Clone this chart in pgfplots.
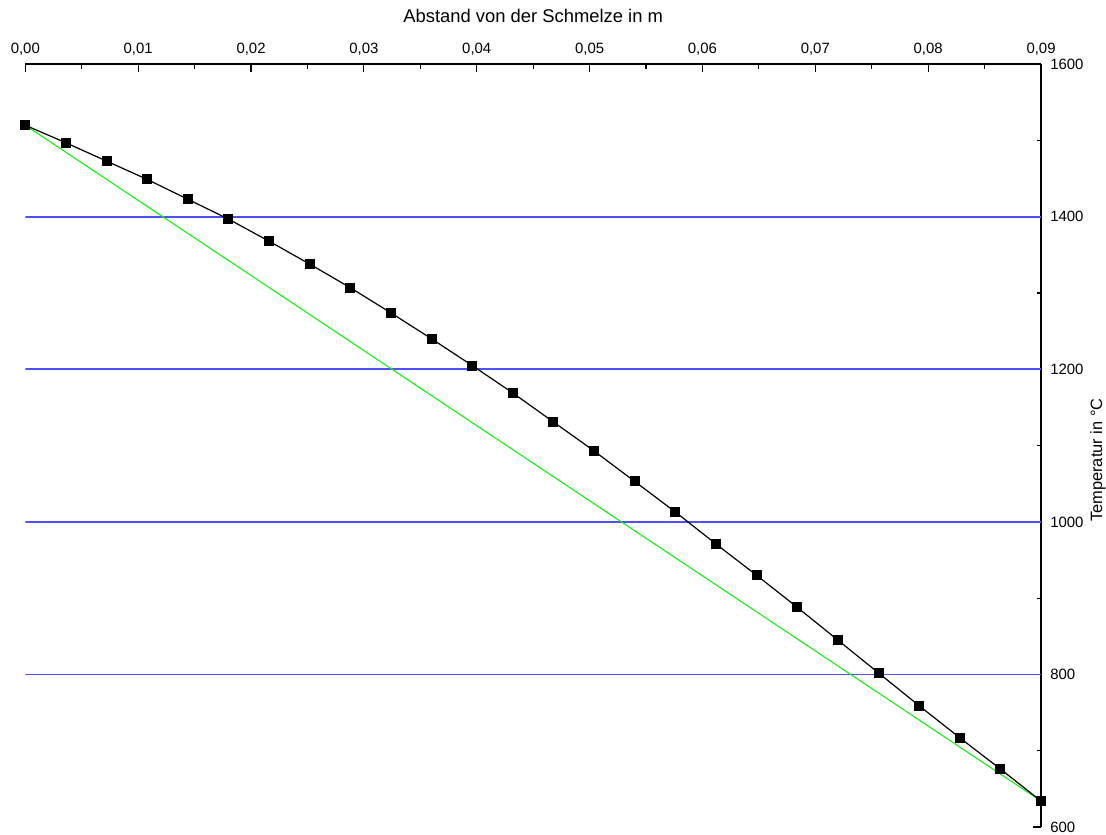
\documentclass[border=0pt]{standalone}
\usepackage{fontspec}
\setmainfont{Liberation Sans}
\usepackage{pgfplots}
\pgfplotsset{compat=1.18}
\definecolor{refblue}{RGB}{80,80,250}
\definecolor{refgreen}{RGB}{20,235,20}
\pgfplotstableread{
x y
0 1520
0.0036 1497
0.0072 1473
0.0108 1449
0.0144 1423
0.0180 1397
0.0216 1368
0.0252 1338
0.0288 1307
0.0324 1274
0.0360 1240
0.0396 1205
0.0432 1169
0.0468 1131
0.0504 1093
0.0540 1053
0.0576 1013
0.0612 971
0.0648 930
0.0684 888
0.0720 845
0.0756 802
0.0792 759
0.0828 717
0.0864 676
0.0900 634
}\temps
\begin{document}
\begin{tikzpicture}
\begin{axis}[
  scale only axis,
  width=762pt, height=572.25pt,
  xmin=0, xmax=0.09, ymin=600, ymax=1600,
  axis x line=top, axis y line=right,
  axis line style={-, line width=1.2pt},
  scaled x ticks=false, scaled y ticks=false,
  xtick={0,0.01,0.02,0.03,0.04,0.05,0.06,0.07,0.08,0.09},
  xticklabels={{0,00},{0,01},{0,02},{0,03},{0,04},{0,05},{0,06},{0,07},{0,08},{0,09}},
  ytick={600,800,1000,1200,1400,1600},
  yticklabels={600,800,1000,1200,1400,1600},
  minor x tick num=1, minor y tick num=1,
  tick align=inside,
  major tick length=5.8pt, minor tick length=3.2pt,
  every tick/.style={black, line width=0.9pt},
  tick label style={font=\fontsize{11.2}{13}\selectfont},
  xticklabel style={anchor=base, yshift=8.25pt},
  yticklabel style={anchor=west, inner sep=0pt, xshift=6.75pt},
]
\addplot[draw=refblue, line width=1.2pt] coordinates {(0,800)(0.09,800)};
\addplot[draw=refblue, line width=1.2pt] coordinates {(0,1000)(0.09,1000)};
\addplot[draw=refblue, line width=1.2pt] coordinates {(0,1200.3)(0.09,1200.3)};
\addplot[draw=refblue, line width=1.2pt] coordinates {(0,1400)(0.09,1400)};
\addplot[draw=refgreen, line width=0.8pt] coordinates {(0,1520)(0.09,634)};
\addplot[black, line width=0.9pt, mark=square*, mark size=3.3pt, mark options={solid}] table[x=x,y=y] {\temps};
\end{axis}
\node[anchor=base, font=\fontsize{13.8}{16}\selectfont] at ([yshift=31pt]current axis.north) {Abstand von der Schmelze in m};
\path (current axis.south east) -- (current axis.north east) coordinate[pos=0.481] (yl);
\node[rotate=90, anchor=north, inner sep=0pt, font=\fontsize{12.3}{14}\selectfont] at ([xshift=36.8pt]yl) {Temperatur in °C};
\pgfresetboundingbox
\path ([shift={(-19pt,-5.25pt)}]current axis.south west) rectangle ([shift={(48.75pt,48.2pt)}]current axis.north east);
\end{tikzpicture}
\end{document}
